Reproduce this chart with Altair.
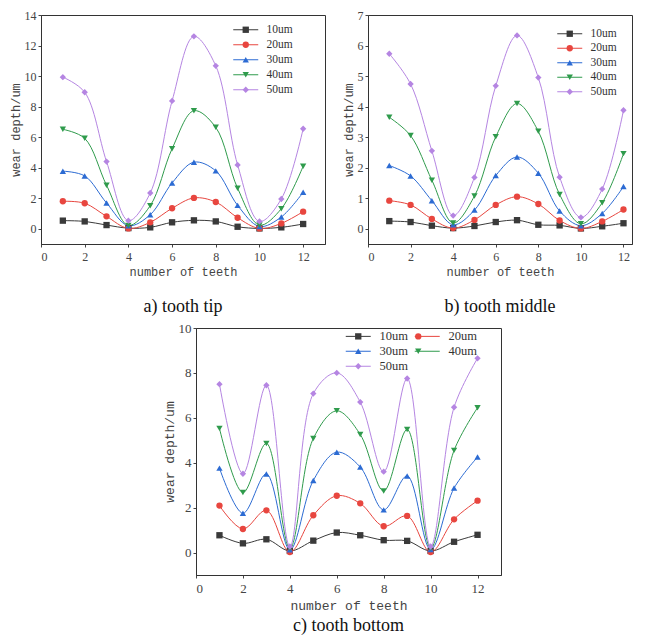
import altair as alt
import pandas as pd

teeth = list(range(1, 13))
series_names = ["10um", "20um", "30um", "40um", "50um"]
series_colors = ["#3a3a3a", "#e8463f", "#2c6bd3", "#2f9b4c", "#b585e2"]
series_shapes = ["square", "circle", "triangle-up", "triangle-down", "diamond"]
x_ticks = [0, 2, 4, 6, 8, 10, 12]

# a) tooth tip
tip_10 = [0.53, 0.48, 0.24, 0.04, 0.09, 0.42, 0.55, 0.48, 0.13, 0.02, 0.09, 0.31]
tip_20 = [1.80, 1.67, 0.81, 0.02, 0.42, 1.34, 2.02, 1.75, 0.72, 0.02, 0.35, 1.12]
tip_30 = [3.77, 3.46, 1.69, 0.20, 0.92, 3.00, 4.36, 3.79, 1.53, 0.15, 0.77, 2.39]
tip_40 = [6.51, 5.92, 2.85, 0.22, 1.51, 5.24, 7.73, 6.64, 2.65, 0.24, 1.31, 4.10]
tip_50 = [9.93, 8.94, 4.40, 0.53, 2.34, 8.37, 12.60, 10.67, 4.18, 0.48, 1.95, 6.55]

# b) tooth middle
mid_10 = [0.25, 0.22, 0.10, 0.02, 0.09, 0.22, 0.28, 0.13, 0.11, 0.01, 0.08, 0.18]
mid_20 = [0.92, 0.78, 0.32, 0.02, 0.29, 0.78, 1.05, 0.81, 0.27, 0.01, 0.24, 0.63]
mid_30 = [2.07, 1.73, 0.92, 0.13, 0.61, 1.74, 2.35, 1.82, 0.58, 0.10, 0.50, 1.38]
mid_40 = [3.65, 3.05, 1.59, 0.19, 1.07, 3.01, 4.10, 3.19, 1.12, 0.16, 0.85, 2.46]
mid_50 = [5.73, 4.74, 2.55, 0.43, 1.68, 4.68, 6.33, 4.95, 1.69, 0.37, 1.30, 3.88]

# c) tooth bottom
bot_10 = [0.77, 0.41, 0.59, 0.07, 0.53, 0.89, 0.77, 0.55, 0.52, 0.07, 0.48, 0.79]
bot_20 = [2.09, 1.05, 1.88, 0.02, 1.66, 2.53, 2.19, 1.17, 1.63, 0.02, 1.48, 2.31]
bot_30 = [3.76, 1.75, 3.50, 0.12, 3.21, 4.47, 3.81, 1.90, 3.41, 0.13, 2.87, 4.25]
bot_40 = [5.53, 2.67, 4.86, 0.19, 5.08, 6.31, 5.26, 2.74, 5.48, 0.19, 4.55, 6.45]
bot_50 = [7.50, 3.51, 7.45, 0.27, 7.08, 8.00, 6.70, 3.60, 7.75, 0.27, 6.47, 8.65]

marker_names = [n + " " for n in series_names]
LINE_SYMBOL = "M-3.95,0L3.95,0"
MARK_SIZE = 40


def long_df(cols):
    rows = []
    for name, mname, vals in zip(series_names, marker_names, cols):
        for t, v in zip(teeth, vals):
            rows.append({"tooth": t, "depth": v, "series": name, "marker": mname})
    return pd.DataFrame(rows)


def legend(lx, ly, columns, lfs, col_pad, row_pad, line_part):
    common = dict(orient="none", legendX=lx, legendY=ly, title=None,
                  symbolSize=MARK_SIZE, labelFontSize=lfs, labelOffset=15,
                  columns=columns, columnPadding=col_pad, rowPadding=row_pad,
                  direction="horizontal" if columns > 1 else "vertical")
    if line_part:
        return alt.Legend(symbolType=LINE_SYMBOL, symbolStrokeWidth=1, **common)
    return alt.Legend(symbolStrokeWidth=0, labelOpacity=0, **common)


def panel(cols, caption, w, h, xdom, ydom, yticks, lx, ly, columns, lfs,
          col_pad, row_pad, tfs, lab_fs, cap_off):
    df = long_df(cols)
    base = alt.Chart(df)
    x = alt.X("tooth:Q",
              scale=alt.Scale(domain=xdom, nice=False, zero=False),
              axis=alt.Axis(values=x_ticks, title="number of teeth",
                            titleFontSize=tfs, labelFontSize=lab_fs,
                            tickSize=3, labelPadding=4, titlePadding=4))
    y = alt.Y("depth:Q",
              scale=alt.Scale(domain=ydom, nice=False, zero=False),
              axis=alt.Axis(values=yticks, title="wear depth/um",
                            titleFontSize=tfs, labelFontSize=lab_fs,
                            tickSize=3, labelPadding=2, titlePadding=2))
    line = base.mark_line(interpolate="catmull-rom", strokeWidth=1,
                          clip=True).encode(
        x=x, y=y,
        stroke=alt.Stroke("series:N",
                          scale=alt.Scale(domain=series_names, range=series_colors),
                          legend=legend(lx, ly, columns, lfs, col_pad, row_pad, True)))
    pt_leg = legend(lx, ly, columns, lfs, col_pad, row_pad, False)
    pts = base.mark_point(filled=True, size=MARK_SIZE, opacity=1).encode(
        x=x, y=y,
        fill=alt.Fill("marker:N",
                      scale=alt.Scale(domain=marker_names, range=series_colors),
                      legend=pt_leg),
        shape=alt.Shape("marker:N",
                        scale=alt.Scale(domain=marker_names, range=series_shapes),
                        legend=pt_leg))
    return alt.layer(line, pts).properties(
        width=w, height=h,
        title=alt.TitleParams(caption, orient="bottom", font="Liberation Serif",
                              fontSize=18, fontWeight="normal", color="#111",
                              offset=cap_off))


p_a = panel([tip_10, tip_20, tip_30, tip_40, tip_50], "a) tooth tip",
            284, 229, [0, 13], [-1, 14], [0, 2, 4, 6, 8, 10, 12, 14],
            199, 9, 1, 11.5, 8, 2, 12, 12, 21)
p_b = panel([mid_10, mid_20, mid_30, mid_40, mid_50], "b) tooth middle",
            264, 229, [0, 12.4], [-0.5, 7], [0, 1, 2, 3, 4, 5, 6, 7],
            196, 13, 1, 11.5, 8, 1.5, 12, 12, 21)
p_c = panel([bot_10, bot_20, bot_30, bot_40, bot_50], "c) tooth bottom",
            305, 247, [0, 13], [-1, 10], [0, 2, 4, 6, 8, 10],
            156, 2, 2, 12.5, 4, 2, 13, 13, 5)

spacer = alt.Chart(pd.DataFrame({"v": [0]})).mark_point(opacity=0).encode(
    x=alt.value(0), y=alt.value(0)
).properties(width=108, height=10, view=alt.ViewBackground(stroke="transparent"))

res = dict(x="independent", y="independent", stroke="independent",
           fill="independent", shape="independent")
leg_res = dict(stroke="independent", fill="independent", shape="independent")

top = alt.hconcat(p_a, p_b, spacing=15).resolve_scale(**res).resolve_legend(**leg_res)
bottom = alt.hconcat(spacer, p_c, spacing=12).resolve_scale(**res).resolve_legend(**leg_res)

chart = alt.vconcat(top, bottom, spacing=4).resolve_scale(**res).resolve_legend(
    **leg_res).properties(
    padding={"left": 0, "top": 0, "right": 0, "bottom": 0}
).configure_view(stroke="#333", strokeWidth=1).configure_axis(
    grid=False, labelFont="Liberation Serif", labelColor="#444",
    tickColor="#444", domainColor="#333", titleFont="Liberation Mono",
    titleFontWeight="normal", titleColor="#444"
).configure_legend(labelFont="Liberation Serif", labelColor="#333")

chart.save("out.html", embed_options={"renderer": "svg", "actions": False})
